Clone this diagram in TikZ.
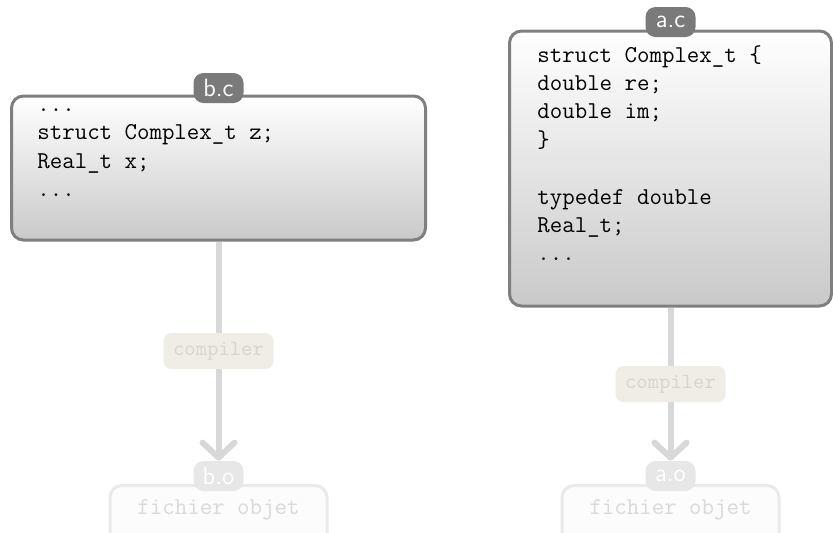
\documentclass[tikz,border=0pt]{standalone}
\usetikzlibrary{arrows.meta}
\definecolor{boxborder}{HTML}{7F7F7F}
\definecolor{tabdark}{HTML}{7A7A7A}
\definecolor{shaft}{HTML}{D8D8D8}
\definecolor{compfill}{HTML}{F0ECE6}
\definecolor{comptext}{HTML}{D8D5D1}
\definecolor{fadetab}{HTML}{E7E7E7}
\definecolor{objborder}{HTML}{EAEAEA}
\definecolor{objfill}{HTML}{FCFCFC}
\definecolor{objtext}{HTML}{D9D9D9}
\begin{document}
\begin{tikzpicture}[x=0.5pt,y=-0.5pt,
  srcbox/.style={draw=boxborder, line width=1.5pt, rounded corners=6pt,
    top color=white, bottom color=gray!42, inner sep=0pt},
  tab/.style={fill=tabdark, text=white, rounded corners=5pt,
    minimum width=25pt, minimum height=15pt, inner sep=0pt,
    font=\sffamily\fontsize{12.5}{14}\selectfont},
  fadetabstyle/.style={tab, fill=fadetab},
  code/.style={anchor=north west, inner sep=0pt,
    font=\ttfamily\fontsize{12.1}{14.2}\selectfont},
  conn/.style={draw=shaft, line width=3pt,
    -{Straight Barb[length=7.5pt, width=16pt, line cap=round, line join=round]}},
  compbox/.style={fill=compfill, text=comptext, rounded corners=4pt,
    minimum width=55pt, minimum height=18pt, inner sep=0pt,
    font=\ttfamily\fontsize{10.8}{12}\selectfont},
  objbox/.style={draw=objborder, line width=1.5pt, fill=objfill,
    rounded corners=6pt, minimum width=108.5pt, inner xsep=0pt,
    inner ysep=7.3pt, text height=7.2pt, text depth=10pt, text=objtext,
    font=\ttfamily\fontsize{12.1}{14.2}\selectfont, anchor=north}
]
\useasboundingbox (0,0) rectangle (833,532);

% source boxes
\node[srcbox, minimum width=207pt, minimum height=72pt] (bc) at (218.5,168) {};
\node[srcbox, minimum width=161pt, minimum height=137.5pt] (ac) at (670.5,168.5) {};

\node[tab] (bctab) at (218.5,88) {b.c};
\node[tab] (actab) at (670.5,22) {a.c};

\node[code] (bctext) at (37,91.1) {\begin{tabular}{@{}l@{}}
...\\
struct Complex\_t z;\\
Real\_t x;\\
...
\end{tabular}};

\node[code] (actext) at (537,41.8) {\begin{tabular}{@{}l@{}}
struct Complex\_t \{\\
double re;\\
double im;\\
\}\\
\\
typedef double\\
Real\_t;\\
...
\end{tabular}};

% object files (faded)
\node[objbox] (bobj) at (218.5,484) {fichier objet};
\node[objbox] (aobj) at (670.5,484) {fichier objet};
\node[fadetabstyle] (botab) at (218.5,476) {b.o};
\node[fadetabstyle] (aotab) at (670.5,476) {a.o};

% connectors
\draw[conn] (bc.south) -- node[midway, compbox] (bcomp) {compiler} (botab.north);
\draw[conn] (ac.south) -- node[midway, compbox] (acomp) {compiler} (aotab.north);
\end{tikzpicture}
\end{document}
